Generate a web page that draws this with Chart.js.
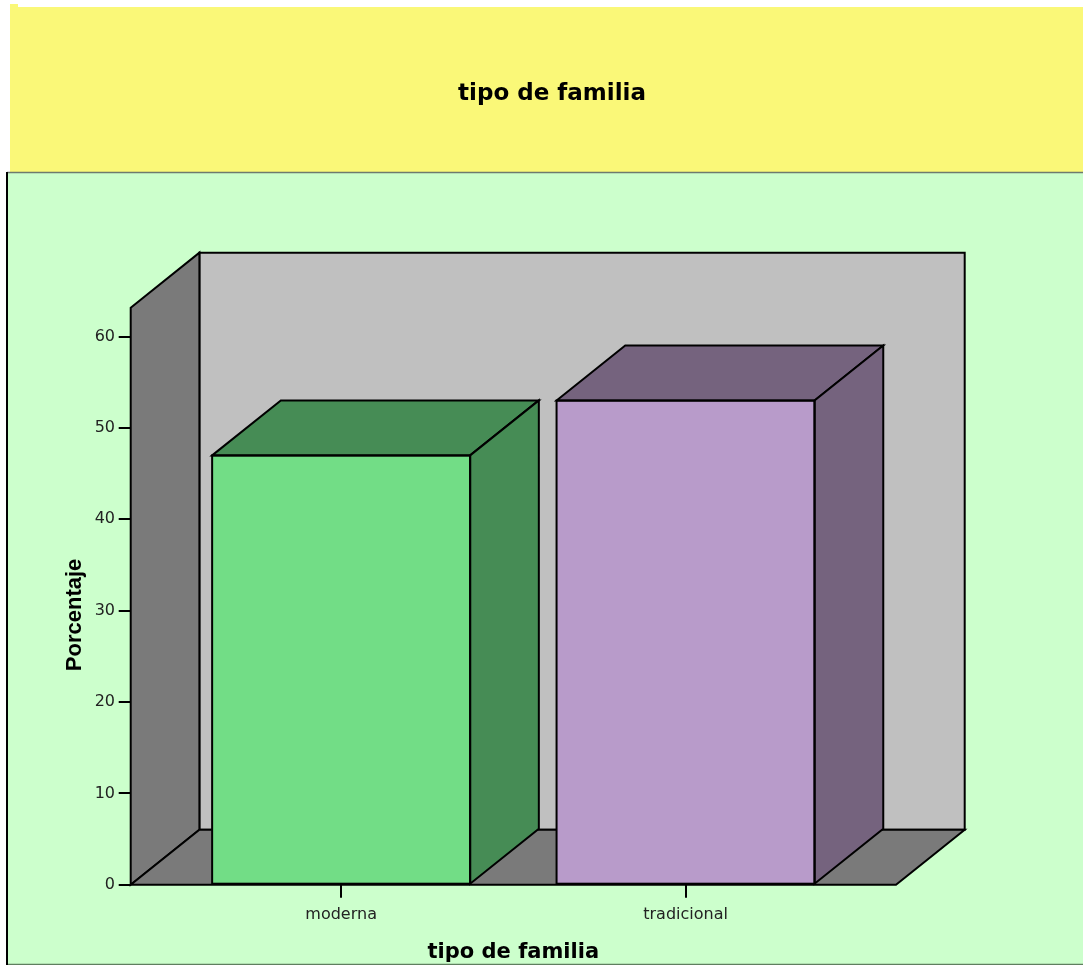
<!DOCTYPE html>
<html><head><meta charset="utf-8">
<script src="https://cdn.jsdelivr.net/npm/chart.js@4.4.0/dist/chart.umd.min.js"></script>
<style>html,body{margin:0;padding:0;background:#fff;} #wrap{width:1083px;height:965px;position:relative;}</style>
</head><body><div id="wrap"><canvas id="c"></canvas></div>
<script>
const chartTitle = 'tipo de familia';
const xAxisTitle = 'tipo de familia';
const yAxisTitle = 'Porcentaje';
const categories = ['moderna', 'tradicional'];
const percentages = [47.0, 53.0];
const yTicks = [0, 10, 20, 30, 40, 50, 60];
const yMax = 63.17;
const frontColors = ['#72DD86', '#B89BCA'];
const sideColors = ['#468C55', '#75637E'];

const DEPTH_X = 68.7, DEPTH_Y = 55;

function poly(ctx, pts, fill) {
  ctx.beginPath();
  ctx.moveTo(pts[0][0], pts[0][1]);
  for (let i = 1; i < pts.length; i++) ctx.lineTo(pts[i][0], pts[i][1]);
  ctx.closePath();
  ctx.fillStyle = fill; ctx.fill();
  ctx.lineWidth = 2; ctx.strokeStyle = '#000'; ctx.lineJoin = 'miter'; ctx.stroke();
}

const panelsPlugin = {
  id: 'panels',
  beforeDraw(chart) {
    const ctx = chart.ctx, W = chart.width, H = chart.height;
    ctx.save();
    ctx.fillStyle = '#ffffff'; ctx.fillRect(0, 0, W, H);
    ctx.fillStyle = '#FAF878'; ctx.fillRect(10, 7, W - 10, 165); ctx.fillRect(10, 4, 8, 3);
    ctx.fillStyle = '#CCFFCC'; ctx.fillRect(6, 172, W - 6, 792);
    ctx.strokeStyle = '#6E7A6E'; ctx.lineWidth = 1.5;
    ctx.beginPath(); ctx.moveTo(7, 172.5); ctx.lineTo(W, 172.5); ctx.stroke();
    ctx.strokeStyle = '#5F7F5F';
    ctx.beginPath(); ctx.moveTo(6, 964.5); ctx.lineTo(W, 964.5); ctx.stroke();
    ctx.strokeStyle = '#000'; ctx.lineWidth = 2;
    ctx.beginPath(); ctx.moveTo(7, 172); ctx.lineTo(7, 965); ctx.stroke();
    ctx.restore();
  },
  beforeDatasetsDraw(chart) {
    const ctx = chart.ctx, a = chart.chartArea;
    const L = a.left, R = a.right, T = a.top, B = a.bottom;
    ctx.save();
    poly(ctx, [[L + DEPTH_X, T - DEPTH_Y], [R + DEPTH_X, T - DEPTH_Y], [R + DEPTH_X, B - DEPTH_Y], [L + DEPTH_X, B - DEPTH_Y]], '#C0C0C0');
    poly(ctx, [[L, T], [L + DEPTH_X, T - DEPTH_Y], [L + DEPTH_X, B - DEPTH_Y], [L, B]], '#7A7A7A');
    poly(ctx, [[L, B], [L + DEPTH_X, B - DEPTH_Y], [R + DEPTH_X, B - DEPTH_Y], [R, B]], '#7A7A7A');
    ctx.restore();
  },
  afterDatasetsDraw(chart) {
    const ctx = chart.ctx;
    ctx.save();
    chart.getDatasetMeta(0).data.forEach((bar, i) => {
      const p = bar.getProps(['x', 'y', 'base', 'width'], true);
      const l = p.x - p.width / 2, r = p.x + p.width / 2;
      poly(ctx, [[l, p.y], [l + DEPTH_X, p.y - DEPTH_Y], [r + DEPTH_X, p.y - DEPTH_Y], [r, p.y]], sideColors[i]);
      poly(ctx, [[r, p.y], [r + DEPTH_X, p.y - DEPTH_Y], [r + DEPTH_X, p.base - DEPTH_Y], [r, p.base]], sideColors[i]);
      ctx.lineWidth = 2; ctx.strokeStyle = '#000';
      ctx.strokeRect(l, p.y, p.width, p.base - p.y);
    });
    ctx.restore();
  },
  afterDraw(chart) {
    const ctx = chart.ctx;
    ctx.save();
    ctx.translate(74.7, 614.9);
    ctx.rotate(-Math.PI / 2);
    ctx.font = 'bold 22px "Liberation Sans", Arial, sans-serif';
    ctx.fillStyle = '#000'; ctx.textAlign = 'center'; ctx.textBaseline = 'middle';
    ctx.fillText(yAxisTitle, 0, 0);
    ctx.restore();
  }
};

new Chart(document.getElementById('c'), {
  type: 'bar',
  data: {
    datasets: [{
      data: percentages.map((v, i) => ({ x: i, y: v })),
      backgroundColor: frontColors,
      borderColor: '#000',
      borderWidth: 0,
      borderSkipped: false,
      barThickness: 258
    }]
  },
  options: {
    responsive: true,
    maintainAspectRatio: false,
    animation: false,
    events: [],
    layout: { padding: { left: 21, right: 0, top: 0, bottom: 0 } },
    plugins: {
      legend: { display: false },
      tooltip: { enabled: false },
      title: {
        display: true, text: chartTitle, color: '#000',
        font: { family: 'DejaVu Sans', size: 23, weight: 'bold' },
        padding: { top: 79.9, bottom: 200.2 }
      }
    },
    scales: {
      x: {
        type: 'linear', min: -0.611, max: 1.611, offset: false,
        afterBuildTicks: s => { s.ticks = categories.map((_, i) => ({ value: i })); },
        ticks: {
          callback: v => categories[v] ?? '',
          font: { family: 'DejaVu Sans', size: 16 }, color: '#222',
          padding: 8, autoSkip: false, maxRotation: 0
        },
        grid: { offset: false, drawOnChartArea: false, drawTicks: true, tickLength: 13, color: '#000', lineWidth: 2 },
        border: { display: false },
        title: {
          display: true, text: xAxisTitle, color: '#000',
          font: { family: 'DejaVu Sans', size: 21, weight: 'bold' },
          padding: { top: 0, bottom: 0 }
        },
        afterFit: s => { s.height = 80.3; }
      },
      y: {
        min: 0, max: yMax,
        afterBuildTicks: s => { s.ticks = yTicks.map(v => ({ value: v })); },
        ticks: { font: { family: 'DejaVu Sans', size: 16 }, color: '#222', padding: 3.7 },
        grid: { drawOnChartArea: false, drawTicks: true, tickLength: 12, color: '#000', lineWidth: 2 },
        border: { display: false },
        afterFit: s => { s.width = 109.7; }
      },
      yRight: {
        position: 'right', display: true,
        grid: { display: false }, ticks: { display: false }, border: { display: false },
        afterFit: s => { s.width = 187; }
      }
    }
  },
  plugins: [panelsPlugin]
});
</script>
</body></html>
